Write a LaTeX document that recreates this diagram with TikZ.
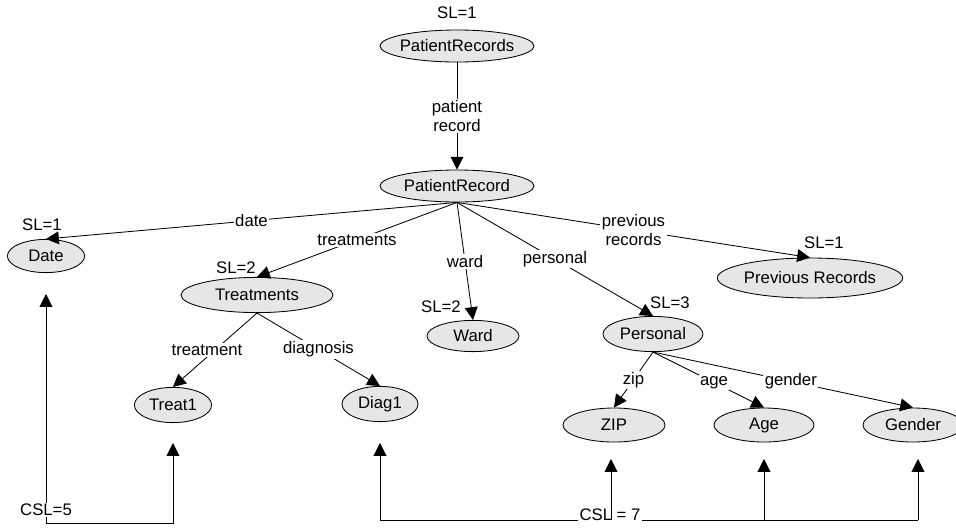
\documentclass[tikz,border=0pt]{standalone}
\usepackage{fontspec}
\setmainfont{Liberation Sans}
\usepackage{tikz}
\usetikzlibrary{
arrows.meta,
shapes,
}

\definecolor{nodegray}{RGB}{230,230,230}

\begin{document}
\begin{tikzpicture}[x=0.025cm, y=-0.025cm,
		every node/.style={font=\fontsize{11.9}{13}\selectfont},
		elem/.style={ellipse, draw, fill=nodegray, line width=0.6pt, inner xsep=-3pt, inner ysep=0pt},
		lbl/.style={fill=white, inner sep=1pt, align=center},
		arr/.style={-{Triangle[length=0.32cm, width=0.32cm]}, line width=0.6pt},
		bus/.style={line width=0.6pt},
	]
			\useasboundingbox (0,0) rectangle (956,528);

			% Define the elements
			\node[elem, minimum width=3.85cm, minimum height=0.8cm] (records) at (457,46) {PatientRecords};
			\node[elem, minimum width=3.85cm, minimum height=0.8cm] (record) at (457,186) {PatientRecord};
			\node[elem, minimum width=1.93cm, minimum height=0.83cm] (date) at (46,256) {Date};
			\node[elem, minimum width=3.8cm, minimum height=0.88cm] (treatments) at (257,295) {Treatments};
			\node[elem, minimum width=2.3cm, minimum height=0.78cm] (ward) at (473,336) {Ward};
			\node[elem, minimum width=4.63cm, minimum height=1.0cm] (previous) at (810,278) {Previous Records};
			\node[elem, minimum width=2.5cm, minimum height=0.88cm] (personal) at (653,334) {Personal};
			\node[elem, minimum width=1.93cm, minimum height=0.88cm] (treat1) at (173,405) {Treat1};
			\node[elem, minimum width=1.9cm, minimum height=0.88cm] (diag1) at (380,404) {Diag1};
			\node[elem, minimum width=2.55cm, minimum height=0.85cm] (zip) at (614,425) {ZIP};
			\node[elem, minimum width=2.5cm, minimum height=0.85cm] (age) at (764,425) {Age};
			\node[elem, minimum width=2.5cm, minimum height=0.85cm] (gender) at (913,425) {Gender};

			% SL values
			\node (slRecords) at (457,13) {SL=1};
			\node (slDate) at (42,225) {SL=1};
			\node (slTreatments) at (236,268) {SL=2};
			\node (slWard) at (441,307) {SL=2};
			\node (slPersonal) at (670,303) {SL=3};
			\node (slPrevious) at (824,243) {SL=1};

			% Tree edges
			\draw[arr] (records.south) -- (record.north) node[lbl, midway] {patient\\record};
			\draw[arr] (record.south) -- (date.north) node[lbl, midway] {date};
			\draw[arr] (record.south) -- (treatments.north) node[lbl, midway] {treatments};
			\draw[arr] (record.south) -- (ward.north) node[lbl, midway] {ward};
			\draw[arr] (record.south) -- (personal.north) node[lbl, midway] {personal};
			\draw[arr] (record.south) -- (previous.north) node[lbl, midway] {previous\\records};
			\draw[arr] (treatments.south) -- (treat1.north) node[lbl, midway, xshift=-0.2cm] {treatment};
			\draw[arr] (treatments.south) -- (diag1.north) node[lbl, midway] {diagnosis};
			\draw[arr] (personal.south) -- (zip.north) node[lbl, midway] {zip};
			\draw[arr] (personal.south) -- (age.north) node[lbl, pos=0.55] {age};
			\draw[arr] (personal.south) -- (gender.north) node[lbl, pos=0.53] {gender};

			% CSL=5 group
			\coordinate (c5) at (46,523);
			\coordinate (dateIn) at (46,294);
			\coordinate (treatIn) at (173,443);
			\draw[arr] (c5) -- (dateIn);
			\draw[arr] (c5) -| (treatIn);
			\node[lbl] (csl5) at (46,510) {CSL=5};

			% CSL = 7 group
			\coordinate (c7a) at (380,520);
			\coordinate (c7b) at (918,520);
			\coordinate (diagIn) at (380,443);
			\coordinate (zipIn) at (611,459);
			\coordinate (ageIn) at (764,459);
			\coordinate (genderIn) at (918,459);
			\draw[bus] (c7a) -- (c7b);
			\node[lbl] (csl7) at (610,515) {CSL = 7};
			\draw[arr] (c7a) -- (diagIn);
			\draw[arr] (zipIn |- c7a) -- (zipIn);
			\draw[arr] (ageIn |- c7a) -- (ageIn);
			\draw[arr] (c7b) -- (genderIn);

		\end{tikzpicture}
\end{document}
